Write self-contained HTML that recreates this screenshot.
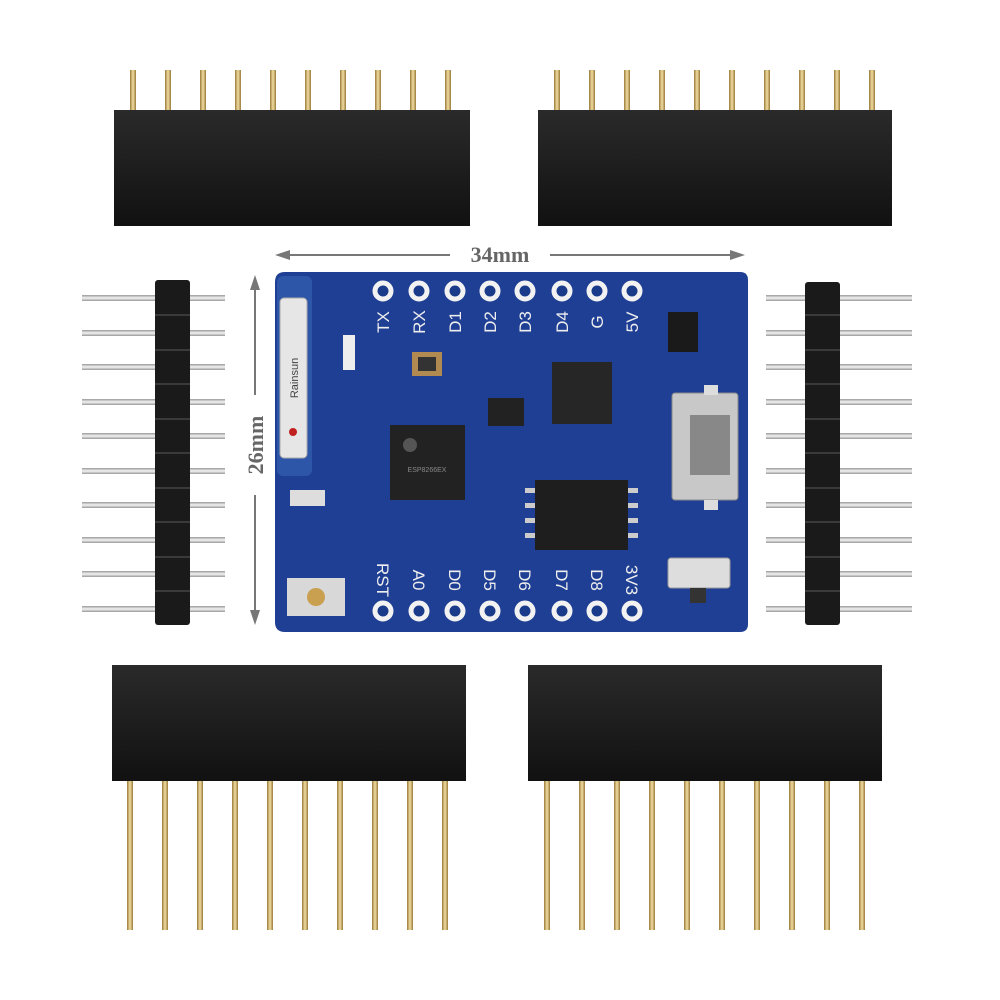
<!DOCTYPE html>
<html><head><style>html,body{margin:0;padding:0;background:#fff}svg{display:block}</style></head>
<body>
<svg width="1000" height="1000" viewBox="0 0 1000 1000" xmlns="http://www.w3.org/2000/svg">
<defs>
<linearGradient id="gold" x1="0" x2="1"><stop offset="0" stop-color="#9a7a3a"/><stop offset=".5" stop-color="#f0dca0"/><stop offset="1" stop-color="#9a7a3a"/></linearGradient>
<linearGradient id="silv" x1="0" x2="0" y1="0" y2="1"><stop offset="0" stop-color="#999"/><stop offset=".5" stop-color="#f4f4f4"/><stop offset="1" stop-color="#999"/></linearGradient>
<linearGradient id="blk" x1="0" x2="0" y1="0" y2="1"><stop offset="0" stop-color="#2a2a2a"/><stop offset="1" stop-color="#111"/></linearGradient>
</defs>
<!-- top headers -->
<g fill="url(#gold)">
<rect x="130" y="70" width="6" height="42"/><rect x="165" y="70" width="6" height="42"/><rect x="200" y="70" width="6" height="42"/><rect x="235" y="70" width="6" height="42"/><rect x="270" y="70" width="6" height="42"/><rect x="305" y="70" width="6" height="42"/><rect x="340" y="70" width="6" height="42"/><rect x="375" y="70" width="6" height="42"/><rect x="410" y="70" width="6" height="42"/><rect x="445" y="70" width="6" height="42"/>
<rect x="554" y="70" width="6" height="42"/><rect x="589" y="70" width="6" height="42"/><rect x="624" y="70" width="6" height="42"/><rect x="659" y="70" width="6" height="42"/><rect x="694" y="70" width="6" height="42"/><rect x="729" y="70" width="6" height="42"/><rect x="764" y="70" width="6" height="42"/><rect x="799" y="70" width="6" height="42"/><rect x="834" y="70" width="6" height="42"/><rect x="869" y="70" width="6" height="42"/>
</g>
<rect x="114" y="110" width="356" height="116" fill="url(#blk)"/>
<rect x="538" y="110" width="354" height="116" fill="url(#blk)"/>
<!-- bottom headers -->
<g fill="url(#gold)">
<rect x="127" y="778" width="6" height="152"/><rect x="162" y="778" width="6" height="152"/><rect x="197" y="778" width="6" height="152"/><rect x="232" y="778" width="6" height="152"/><rect x="267" y="778" width="6" height="152"/><rect x="302" y="778" width="6" height="152"/><rect x="337" y="778" width="6" height="152"/><rect x="372" y="778" width="6" height="152"/><rect x="407" y="778" width="6" height="152"/><rect x="442" y="778" width="6" height="152"/>
<rect x="544" y="778" width="6" height="152"/><rect x="579" y="778" width="6" height="152"/><rect x="614" y="778" width="6" height="152"/><rect x="649" y="778" width="6" height="152"/><rect x="684" y="778" width="6" height="152"/><rect x="719" y="778" width="6" height="152"/><rect x="754" y="778" width="6" height="152"/><rect x="789" y="778" width="6" height="152"/><rect x="824" y="778" width="6" height="152"/><rect x="859" y="778" width="6" height="152"/>
</g>
<rect x="112" y="665" width="354" height="116" fill="url(#blk)"/>
<rect x="528" y="665" width="354" height="116" fill="url(#blk)"/>
<!-- side male headers -->
<g fill="url(#silv)">
<rect x="82" y="295" width="143" height="6"/><rect x="82" y="330" width="143" height="6"/><rect x="82" y="364" width="143" height="6"/><rect x="82" y="399" width="143" height="6"/><rect x="82" y="433" width="143" height="6"/><rect x="82" y="468" width="143" height="6"/><rect x="82" y="502" width="143" height="6"/><rect x="82" y="537" width="143" height="6"/><rect x="82" y="571" width="143" height="6"/><rect x="82" y="606" width="143" height="6"/>
<rect x="766" y="295" width="146" height="6"/><rect x="766" y="330" width="146" height="6"/><rect x="766" y="364" width="146" height="6"/><rect x="766" y="399" width="146" height="6"/><rect x="766" y="433" width="146" height="6"/><rect x="766" y="468" width="146" height="6"/><rect x="766" y="502" width="146" height="6"/><rect x="766" y="537" width="146" height="6"/><rect x="766" y="571" width="146" height="6"/><rect x="766" y="606" width="146" height="6"/>
</g>
<rect x="155" y="280" width="35" height="345" rx="3" fill="#1a1a1a"/>
<rect x="805" y="282" width="35" height="343" rx="3" fill="#1a1a1a"/>
<g stroke="#444" stroke-width="1.5">
<line x1="155" y1="315" x2="190" y2="315"/><line x1="155" y1="350" x2="190" y2="350"/><line x1="155" y1="384" x2="190" y2="384"/><line x1="155" y1="419" x2="190" y2="419"/><line x1="155" y1="453" x2="190" y2="453"/><line x1="155" y1="488" x2="190" y2="488"/><line x1="155" y1="522" x2="190" y2="522"/><line x1="155" y1="557" x2="190" y2="557"/><line x1="155" y1="591" x2="190" y2="591"/>
<line x1="805" y1="315" x2="840" y2="315"/><line x1="805" y1="350" x2="840" y2="350"/><line x1="805" y1="384" x2="840" y2="384"/><line x1="805" y1="419" x2="840" y2="419"/><line x1="805" y1="453" x2="840" y2="453"/><line x1="805" y1="488" x2="840" y2="488"/><line x1="805" y1="522" x2="840" y2="522"/><line x1="805" y1="557" x2="840" y2="557"/><line x1="805" y1="591" x2="840" y2="591"/>
</g>
<!-- dimension lines -->
<g stroke="#777" stroke-width="2" fill="#777">
<line x1="285" y1="255" x2="450" y2="255"/><line x1="550" y1="255" x2="735" y2="255"/>
<polygon points="275,255 290,250 290,260" stroke="none"/><polygon points="745,255 730,250 730,260" stroke="none"/>
<line x1="255" y1="285" x2="255" y2="395"/><line x1="255" y1="495" x2="255" y2="615"/>
<polygon points="255,275 250,290 260,290" stroke="none"/><polygon points="255,625 250,610 260,610" stroke="none"/>
</g>
<text x="500" y="262" font-family="Liberation Serif,serif" font-weight="bold" font-size="22" fill="#666" text-anchor="middle">34mm</text>
<text transform="translate(263,445) rotate(-90)" font-family="Liberation Serif,serif" font-weight="bold" font-size="22" fill="#666" text-anchor="middle">26mm</text>
<!-- board -->
<path d="M285,272 H740 Q748,272 748,280 V624 Q748,632 740,632 H285 Q275,632 275,622 V282 Q275,272 285,272 Z" fill="#1f3f94"/>
<rect x="277" y="276" width="35" height="200" rx="6" fill="#2d55a8"/>
<rect x="280" y="298" width="27" height="160" rx="4" fill="#e6e6e6" stroke="#aaa"/>
<text transform="translate(298,378) rotate(-90)" font-family="Liberation Sans,sans-serif" font-size="11" fill="#444" text-anchor="middle">Rainsun</text>
<circle cx="293" cy="432" r="4" fill="#c02020"/>
<!-- pads -->
<g fill="#1a3a8a" stroke="#f2f2f2" stroke-width="5">
<circle cx="383" cy="291" r="8"/><circle cx="419" cy="291" r="8"/><circle cx="455" cy="291" r="8"/><circle cx="490" cy="291" r="8"/><circle cx="525" cy="291" r="8"/><circle cx="562" cy="291" r="8"/><circle cx="597" cy="291" r="8"/><circle cx="632" cy="291" r="8"/>
<circle cx="383" cy="611" r="8"/><circle cx="419" cy="611" r="8"/><circle cx="455" cy="611" r="8"/><circle cx="490" cy="611" r="8"/><circle cx="525" cy="611" r="8"/><circle cx="562" cy="611" r="8"/><circle cx="597" cy="611" r="8"/><circle cx="632" cy="611" r="8"/>
</g>
<g font-family="Liberation Sans,sans-serif" font-size="17" fill="#eee">
<text transform="translate(389,322) rotate(-90)" text-anchor="middle">TX</text>
<text transform="translate(425,322) rotate(-90)" text-anchor="middle">RX</text>
<text transform="translate(461,322) rotate(-90)" text-anchor="middle">D1</text>
<text transform="translate(496,322) rotate(-90)" text-anchor="middle">D2</text>
<text transform="translate(531,322) rotate(-90)" text-anchor="middle">D3</text>
<text transform="translate(568,322) rotate(-90)" text-anchor="middle">D4</text>
<text transform="translate(603,322) rotate(-90)" text-anchor="middle">G</text>
<text transform="translate(638,322) rotate(-90)" text-anchor="middle">5V</text>
<text transform="translate(377,580) rotate(90)" text-anchor="middle">RST</text>
<text transform="translate(413,580) rotate(90)" text-anchor="middle">A0</text>
<text transform="translate(449,580) rotate(90)" text-anchor="middle">D0</text>
<text transform="translate(484,580) rotate(90)" text-anchor="middle">D5</text>
<text transform="translate(519,580) rotate(90)" text-anchor="middle">D6</text>
<text transform="translate(556,580) rotate(90)" text-anchor="middle">D7</text>
<text transform="translate(591,580) rotate(90)" text-anchor="middle">D8</text>
<text transform="translate(626,580) rotate(90)" text-anchor="middle">3V3</text>
</g>
<!-- chips -->
<rect x="390" y="425" width="75" height="75" fill="#222"/>
<circle cx="410" cy="445" r="7" fill="#555"/>
<text x="427" y="472" font-family="Liberation Sans,sans-serif" font-size="7" fill="#888" text-anchor="middle">ESP8266EX</text>
<rect x="552" y="362" width="60" height="62" fill="#262626"/>
<rect x="488" y="398" width="36" height="28" fill="#222"/>
<rect x="535" y="480" width="93" height="70" fill="#1e1e1e"/>
<g fill="#ccc"><rect x="525" y="488" width="10" height="5"/><rect x="525" y="503" width="10" height="5"/><rect x="525" y="518" width="10" height="5"/><rect x="525" y="533" width="10" height="5"/><rect x="628" y="488" width="10" height="5"/><rect x="628" y="503" width="10" height="5"/><rect x="628" y="518" width="10" height="5"/><rect x="628" y="533" width="10" height="5"/></g>
<rect x="668" y="312" width="30" height="40" fill="#1a1a1a"/>
<rect x="412" y="352" width="30" height="24" fill="#b08a50"/><rect x="418" y="357" width="18" height="14" fill="#333"/>
<rect x="672" y="393" width="66" height="107" rx="3" fill="#c8c8c8" stroke="#888"/>
<rect x="690" y="415" width="40" height="60" fill="#888"/>
<rect x="668" y="558" width="62" height="30" rx="3" fill="#ddd" stroke="#999"/>
<rect x="690" y="588" width="16" height="15" fill="#333"/>
<rect x="287" y="578" width="58" height="38" fill="#d8d8d8"/><circle cx="316" cy="597" r="9" fill="#c9a050"/>
<rect x="290" y="490" width="35" height="16" fill="#ddd"/>
<rect x="343" y="335" width="12" height="35" fill="#eee"/>
<rect x="704" y="385" width="14" height="10" fill="#ddd"/><rect x="704" y="500" width="14" height="10" fill="#ddd"/>
</svg>
</body></html>
